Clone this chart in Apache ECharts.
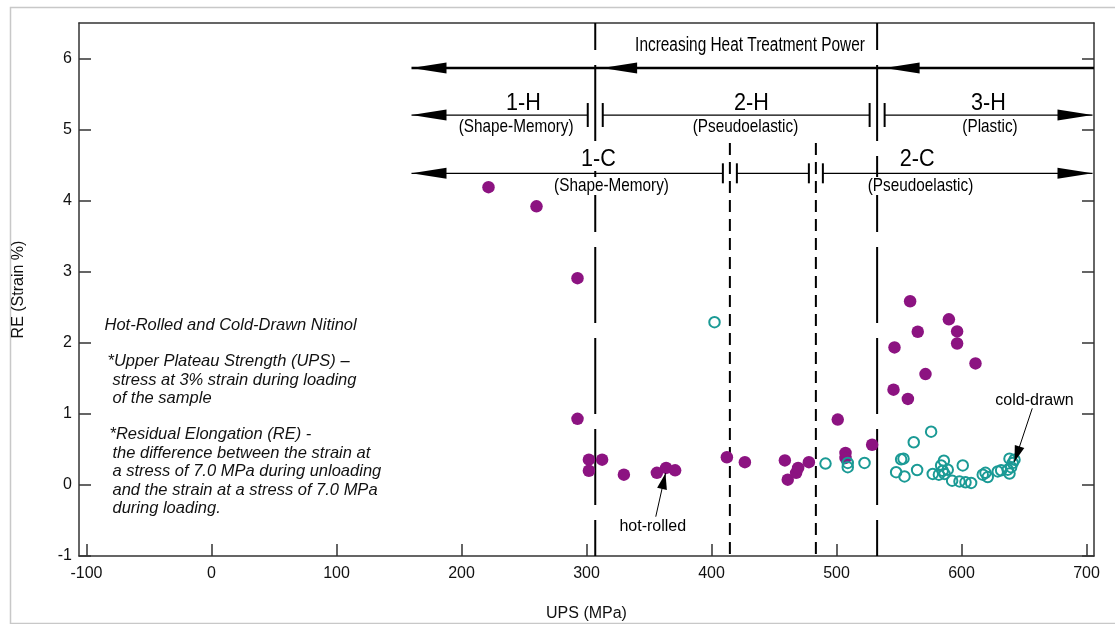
<!DOCTYPE html>
<html>
<head>
<meta charset="utf-8">
<script src="https://cdn.jsdelivr.net/npm/echarts@6/dist/echarts.min.js"></script>
<style>
  html, body { margin: 0; padding: 0; background: #fff; }
  #chart { width: 1115px; height: 624px; }
</style>
</head>
<body>
<div id="chart"></div>
<script>
// Hot-rolled Nitinol: upper plateau strength (MPa) and residual elongation (strain %)
const hotRolledUPS = [221.6, 260, 292.8, 292.8, 301.9, 301.9, 312.5, 329.9, 356.3, 363.7, 370.9,
  412.3, 426.7, 458.7, 461, 467.7, 469.3, 477.9, 501, 507.2, 507.2, 528.5,
  558.9, 589.9, 565, 596.5, 596.5, 546.4, 611.2, 571.2, 545.6, 557.1];
const hotRolledRE = [4.19, 3.92, 2.91, 0.93, 0.355, 0.20, 0.355, 0.145, 0.17, 0.24, 0.205,
  0.39, 0.32, 0.345, 0.074, 0.17, 0.24, 0.32, 0.92, 0.45, 0.38, 0.565,
  2.585, 2.33, 2.155, 2.16, 1.99, 1.935, 1.71, 1.56, 1.34, 1.21];

// Cold-drawn Nitinol
const coldDrawnUPS = [402.4, 491.2, 509, 509, 522.4, 547.7, 551.7, 553.6, 554.4, 561.8, 564.5,
  575.7, 577, 581.9, 583.7, 585, 585.9, 586.4, 589, 592.5, 598.4, 601, 603.2, 607.7,
  617, 619.2, 621, 629, 631.7, 637, 638.4, 638.4, 639.7, 641, 642.4];
const coldDrawnRE = [2.29, 0.30, 0.31, 0.25, 0.31, 0.18, 0.36, 0.37, 0.12, 0.60, 0.21,
  0.75, 0.155, 0.145, 0.275, 0.20, 0.34, 0.155, 0.215, 0.06, 0.05, 0.275, 0.037, 0.028,
  0.145, 0.17, 0.11, 0.19, 0.205, 0.215, 0.16, 0.37, 0.25, 0.31, 0.355];

const xTicks = [-100, 0, 100, 200, 300, 400, 500, 600, 700];
const yTicks = [-1, 0, 1, 2, 3, 4, 5, 6];
const xRange = [-106, 706];
const yRange = [-1, 6.5];

// Region boundaries (MPa)
const hotBoundaries = [307, 532.5];
const coldBoundaries = [414.7, 483.5];
const coldBoundaryTop = 4.81;

// Arrow rows (RE level of each row, arrow tips in MPa)
const powerRowY = 5.866;
const powerArrowTips = [160, 312.5, 538.5];
const hotRowY = 5.205;
const coldRowY = 4.385;
const rowEnds = [160, 704.8];

const powerTitle = 'Increasing Heat Treatment Power';
const powerTitlePos = [430.8, 6.176];

const regionNames = ['1-H', '2-H', '3-H', '1-C', '2-C'];
const regionNameX = [249.5, 432, 621.6, 309.6, 564.5];
const regionNameY = [5.367, 5.367, 5.367, 4.586, 4.586];
const regionKinds = ['(Shape-Memory)', '(Pseudoelastic)', '(Plastic)', '(Shape-Memory)', '(Pseudoelastic)'];
const regionKindX = [243.7, 427.2, 622.8, 320, 567.2];
const regionKindY = [5.029, 5.029, 5.029, 4.206, 4.206];

// Callouts: label, label centre, arrow start, arrow tip
const calloutLabels = ['hot-rolled', 'cold-drawn'];
const calloutLabelPos = [[353.0, -0.592], [658.4, 1.185]];
const calloutFrom = [[355.4, -0.447], [656.6, 1.078]];
const calloutTo = [[363.2, 0.164], [642.4, 0.327]];

// Explanatory notes
const noteLines = [
  'Hot-Rolled and Cold-Drawn Nitinol',
  '*Upper Plateau Strength (UPS) \u2013',
  'stress at 3% strain during loading',
  'of the sample',
  '*Residual Elongation (RE) -',
  'the difference between the strain at',
  'a stress of 7.0 MPa during unloading',
  'and the strain at a stress of 7.0 MPa',
  'during loading.'
];
const noteX = [-85.6, -83.2, -79.2, -79.2, -81.6, -79.2, -79.2, -79.2, -79.2];
const noteY = [2.25, 1.737, 1.476, 1.223, 0.71, 0.449, 0.189, -0.071, -0.325];

const PURPLE = '#8c1381';
const TEAL = '#1a9a95';
const INK = '#111';
const AXIS_INK = '#333';
const SANS = '"Liberation Sans", Arial, sans-serif';

function zip(xs, ys) { return xs.map((x, i) => [x, ys[i]]); }

function headPoints(tip, from, len, half) {
  const dx = tip[0] - from[0], dy = tip[1] - from[1];
  const d = Math.hypot(dx, dy) || 1;
  const ux = dx / d, uy = dy / d;
  const bx = tip[0] - ux * len, by = tip[1] - uy * len;
  return [tip, [bx - uy * half, by + ux * half], [bx + uy * half, by - ux * half]];
}

function seg(p, q, width, extra) {
  return {
    type: 'line',
    shape: { x1: p[0], y1: p[1], x2: q[0], y2: q[1] },
    style: Object.assign({ stroke: '#000', lineWidth: width, fill: null }, extra || {})
  };
}

function head(tip, from, len, half) {
  return { type: 'polygon', shape: { points: headPoints(tip, from, len, half) }, style: { fill: '#000' } };
}

// text centred on p; squeeze < 1 narrows the glyphs horizontally (condensed lettering)
function label(text, p, size, opts, squeeze) {
  return {
    type: 'text', x: p[0], y: p[1], scaleX: squeeze || 1,
    style: Object.assign({
      text: text, fill: '#000', fontSize: size, fontFamily: SANS,
      align: 'center', verticalAlign: 'middle'
    }, opts || {})
  };
}

function renderGuides(params, api) {
  const kids = [];
  hotBoundaries.forEach(b => {
    kids.push(seg(api.coord([b, yRange[0]]), api.coord([b, yRange[1]]), 2,
      { lineDash: [76, 15], lineDashOffset: 40 }));
  });
  coldBoundaries.forEach(b => {
    kids.push(seg(api.coord([b, coldBoundaryTop]), api.coord([b, yRange[0]]), 2,
      { lineDash: [12, 7] }));
  });
  return { type: 'group', children: kids };
}

function breakRow(kids, api, y, boundaries, gapPx, barHalf) {
  const left = api.coord([rowEnds[0], y]);
  const right = api.coord([rowEnds[1], y]);
  const stops = [left[0]];
  boundaries.forEach(b => {
    const c = api.coord([b, y])[0];
    stops.push(c - gapPx, c + gapPx);
  });
  stops.push(right[0]);
  for (let i = 0; i < stops.length; i += 2) {
    kids.push(seg([stops[i], left[1]], [stops[i + 1], left[1]], 1.2));
  }
  for (let i = 1; i < stops.length - 1; i++) {
    kids.push(seg([stops[i], left[1] - barHalf], [stops[i], left[1] + barHalf], 2));
  }
  kids.push(head(left, [left[0] + 10, left[1]], 35, 5.5));
  kids.push(head(right, [right[0] - 10, right[1]], 35, 5.5));
}

function renderNotes(params, api) {
  const kids = [];
  const boxed = { backgroundColor: '#fff', padding: [0, 1] };
  // region names on white boxes so the boundary lines pass behind them
  regionNames.forEach((t, i) => {
    kids.push(label(t, api.coord([regionNameX[i], regionNameY[i]]), 24, boxed, 0.9));
    kids.push(label(regionKinds[i], api.coord([regionKindX[i], regionKindY[i]]), 17.7, boxed, 0.865));
  });
  kids.push(label(powerTitle, api.coord(powerTitlePos), 19.5, null, 0.79));

  // heat-treatment power arrow
  const pl = api.coord([powerArrowTips[0], powerRowY]);
  const pr = api.coord([xRange[1], powerRowY]);
  kids.push(seg(pl, pr, 2.6));
  powerArrowTips.forEach(t => {
    const tip = api.coord([t, powerRowY]);
    kids.push(head(tip, [tip[0] + 10, tip[1]], 35, 5.5));
  });

  breakRow(kids, api, hotRowY, hotBoundaries, 7.5, 12);
  breakRow(kids, api, coldRowY, coldBoundaries, 7, 10);

  // callouts
  calloutLabels.forEach((t, i) => {
    kids.push(label(t, api.coord(calloutLabelPos[i]), 16));
    const a = api.coord(calloutFrom[i]), b = api.coord(calloutTo[i]);
    kids.push(seg(a, b, 1));
    kids.push(head(b, a, 16, 5));
  });

  // notes block
  noteLines.forEach((t, i) => {
    kids.push(label(t, api.coord([noteX[i], noteY[i]]), 16.5,
      { align: 'left', fontStyle: 'italic', fill: INK }));
  });
  return { type: 'group', children: kids };
}

const chart = echarts.init(document.getElementById('chart'), null, { renderer: 'canvas' });

const tickStyle = { color: AXIS_INK, width: 1.5 };

chart.setOption({
  animation: false,
  backgroundColor: '#fff',
  graphic: [{
    type: 'rect', left: 8, top: 5, z: -10,
    shape: { width: 1115, height: 616 },
    style: { fill: null, stroke: '#c8c8c8', lineWidth: 1.5 }
  }],
  grid: { left: 79, right: 21, top: 23, bottom: 68, outerBoundsMode: 'none', containLabel: false },
  xAxis: [{
    type: 'value', min: xRange[0], max: xRange[1], position: 'bottom',
    name: 'UPS (MPa)', nameLocation: 'middle', nameGap: 50,
    nameTextStyle: { color: INK, fontSize: 16, fontFamily: SANS },
    axisLine: { show: true, onZero: false, lineStyle: tickStyle },
    axisTick: { show: true, inside: true, length: 12, customValues: xTicks, lineStyle: tickStyle },
    axisLabel: { customValues: xTicks, color: INK, fontSize: 16, fontFamily: SANS, margin: 10 },
    splitLine: { show: false }
  }, {
    type: 'value', min: xRange[0], max: xRange[1], position: 'top',
    axisLine: { show: true, onZero: false, lineStyle: tickStyle },
    axisTick: { show: false }, axisLabel: { show: false }, splitLine: { show: false }
  }],
  yAxis: [{
    type: 'value', min: yRange[0], max: yRange[1], position: 'left',
    name: 'RE (Strain %)', nameLocation: 'middle', nameGap: 52,
    nameTextStyle: { color: INK, fontSize: 16, fontFamily: SANS },
    axisLine: { show: true, onZero: false, lineStyle: tickStyle },
    axisTick: { show: true, inside: true, length: 12, customValues: yTicks, lineStyle: tickStyle },
    axisLabel: { customValues: yTicks, color: INK, fontSize: 16, fontFamily: SANS, margin: 7 },
    splitLine: { show: false }
  }, {
    type: 'value', min: yRange[0], max: yRange[1], position: 'right',
    axisLine: { show: true, onZero: false, lineStyle: tickStyle },
    axisTick: { show: true, inside: true, length: 12, customValues: yTicks, lineStyle: tickStyle },
    axisLabel: { show: false }, splitLine: { show: false }
  }],
  series: [{
    name: 'boundaries', type: 'custom', z: 1, silent: true,
    renderItem: renderGuides, data: [[0, 0]]
  }, {
    name: 'hot-rolled', type: 'scatter', z: 2,
    data: zip(hotRolledUPS, hotRolledRE),
    symbol: 'circle', symbolSize: 12.5,
    itemStyle: { color: PURPLE, opacity: 1 }
  }, {
    name: 'cold-drawn', type: 'scatter', z: 2,
    data: zip(coldDrawnUPS, coldDrawnRE),
    symbol: 'circle', symbolSize: 10.5,
    itemStyle: { color: 'rgba(255,255,255,0)', borderColor: TEAL, borderWidth: 2, opacity: 1 }
  }, {
    name: 'annotations', type: 'custom', z: 3, silent: true,
    renderItem: renderNotes, data: [[0, 0]]
  }]
});
</script>
</body>
</html>
